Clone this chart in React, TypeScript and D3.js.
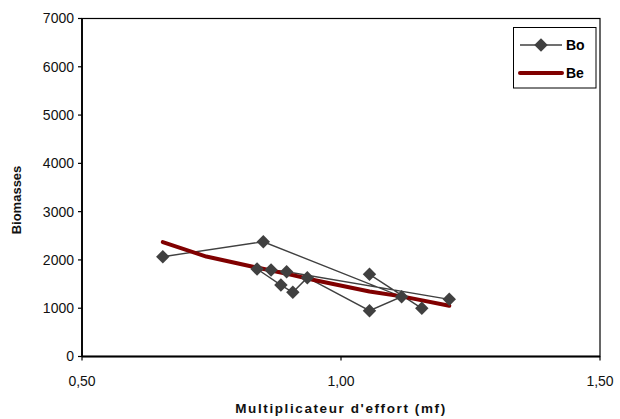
import React from "react";
import * as d3 from "d3";

// Observed biomass (Bo) by effort multiplier, in series order (NaN marks a break)
const boMf = [1.055, 1.156, NaN, 0.656, 0.85, 1.117, 1.055, 0.935, 0.907, 0.884, 0.838, 0.865, 0.895, 1.209];
const boBiomass = [1702, 998, NaN, 2067, 2377, 1238, 948, 1632, 1329, 1480, 1812, 1791, 1756, 1184];

// Estimated biomass (Be)
const beMf = [0.656, 0.74, 0.83, 0.9, 0.95, 1.055, 1.12, 1.209];
const beBiomass = [2370, 2070, 1860, 1700, 1580, 1345, 1240, 1050];

const yTicks = [0, 1000, 2000, 3000, 4000, 5000, 6000, 7000];
const xTicks = [0.5, 1.0, 1.5];

const W = 620;
const H = 419;
const M = { left: 82, top: 18.5, right: 600, bottom: 356.5 };
const FONT = "'Liberation Sans', Arial, sans-serif";

export default function App() {
  const x = d3.scaleLinear().domain([0.5, 1.5]).range([M.left, M.right]);
  const y = d3.scaleLinear().domain([0, 7000]).range([M.bottom, M.top]);

  const boPts: [number, number][] = boMf.map((m, i) => [x(m), y(boBiomass[i])]);
  const bePts: [number, number][] = beMf.map((m, i) => [x(m), y(beBiomass[i])]);
  const line = d3.line().defined((p) => !isNaN(p[0]) && !isNaN(p[1]));
  const diamond = d3.symbol().type(d3.symbolDiamond2).size(115)() as string;
  const fmt = (v: number) => v.toFixed(2).replace(".", ",");

  return (
    <svg
      width={W}
      height={H}
      style={{ position: "absolute", left: 0, top: 0, background: "#fff" }}
      fontFamily={FONT}
    >
      {/* plot frame */}
      <rect x={M.left} y={M.top} width={M.right - M.left} height={M.bottom - M.top} fill="none" stroke="#000" strokeWidth={1.2} />
      {/* axes */}
      <line x1={M.left} y1={M.top} x2={M.left} y2={M.bottom} stroke="#000" strokeWidth={1.8} />
      <line x1={M.left} y1={M.bottom} x2={M.right} y2={M.bottom} stroke="#000" strokeWidth={1.8} />

      {yTicks.map((t) => (
        <g key={t}>
          <line x1={M.left - 4} x2={M.left} y1={y(t)} y2={y(t)} stroke="#000" strokeWidth={1.2} />
          <text x={M.left - 8} y={y(t)} dy="0.35em" textAnchor="end" fontSize={14} fill="#111">
            {t}
          </text>
        </g>
      ))}
      {xTicks.map((t) => (
        <g key={t}>
          <line x1={x(t)} x2={x(t)} y1={M.bottom} y2={M.bottom + 4} stroke="#000" strokeWidth={1.2} />
          <text x={x(t)} y={386} textAnchor="middle" fontSize={14} fill="#111">
            {fmt(t)}
          </text>
        </g>
      ))}

      <text x={341} y={413} textAnchor="middle" fontSize={13.5} fontWeight="bold" letterSpacing={1.6} fill="#111">
        Multiplicateur d'effort (mf)
      </text>
      <text
        transform={`translate(21, 200) rotate(-90)`}
        textAnchor="middle"
        fontSize={13}
        fontWeight="bold"
        fill="#111"
      >
        Biomasses
      </text>

      {/* Bo series */}
      <path d={line(boPts) as string} fill="none" stroke="#404040" strokeWidth={1.4} />
      {/* Be series */}
      <path d={line(bePts) as string} fill="none" stroke="#800000" strokeWidth={4} strokeLinejoin="round" strokeLinecap="round" />
      {boPts
        .filter((p) => !isNaN(p[0]))
        .map((p, i) => (
          <path key={i} d={diamond} transform={`translate(${p[0]},${p[1]})`} fill="#404040" />
        ))}

      {/* legend */}
      <rect x={513.5} y={27.5} width={82.5} height={60.5} fill="#fff" stroke="#000" strokeWidth={1} />
      <line x1={520} x2={562} y1={45} y2={45} stroke="#404040" strokeWidth={1.4} />
      <path d={diamond} transform="translate(541,45)" fill="#404040" />
      <text x={566} y={45} dy="0.36em" fontSize={14} fontWeight="bold" fill="#000">
        Bo
      </text>
      <line x1={520} x2={562} y1={73} y2={73} stroke="#800000" strokeWidth={4} strokeLinecap="round" />
      <text x={566} y={73} dy="0.36em" fontSize={14} fontWeight="bold" fill="#000">
        Be
      </text>
    </svg>
  );
}
